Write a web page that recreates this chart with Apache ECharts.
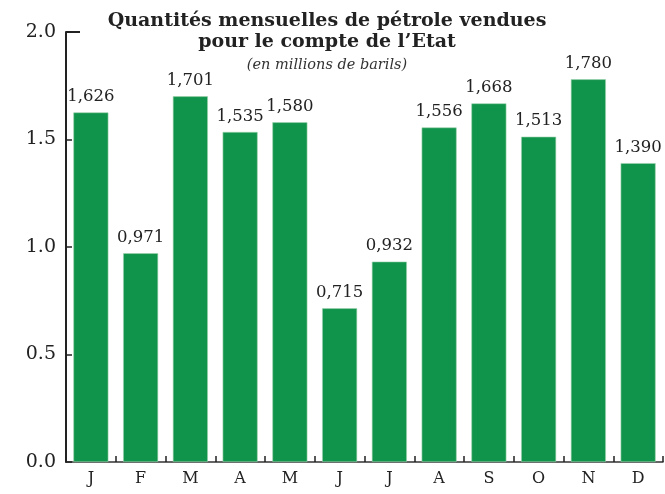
<!DOCTYPE html>
<html><head><meta charset="utf-8">
<script src="https://cdn.jsdelivr.net/npm/echarts@6/dist/echarts.min.js"></script>
<style>html,body{margin:0;padding:0;background:#fff}#c{width:665px;height:494px}</style>
</head><body><div id="c"></div>
<script>
const months = ['J','F','M','A','M','J','J','A','S','O','N','D'];
const values = [1.626,0.971,1.701,1.535,1.580,0.715,0.932,1.556,1.668,1.513,1.780,1.390];
const titleLines = ['Quantités mensuelles de pétrole vendues','pour le compte de l’Etat'];
const subtitle = '(en millions de barils)';
const yMax = 2;
const font = 'DejaVu Serif';
const chart = echarts.init(document.getElementById('c'));
chart.setOption({
  animation:false,
  title:{text:titleLines.join('\n'),subtext:subtitle,left:322,top:6,textAlign:'center',itemGap:5,
    textStyle:{fontFamily:font,fontWeight:'bold',fontSize:19,color:'#222',lineHeight:21},
    subtextStyle:{fontFamily:font,fontStyle:'italic',fontSize:14.5,color:'#333'}},
  grid:{left:66,right:2,top:32,bottom:32},
  xAxis:{type:'category',data:months,
    axisLine:{lineStyle:{color:'#333',width:1.5}},
    axisTick:{show:true,inside:true,length:6,lineStyle:{color:'#222',width:1.5}},
    axisLabel:{fontFamily:font,fontSize:16,color:'#222',margin:9}},
  yAxis:{type:'value',min:0,max:yMax,interval:0.5,
    axisLine:{show:true,lineStyle:{color:'#222',width:2}},
    axisTick:{show:true,inside:true,length:6,lineStyle:{color:'#222',width:1.5}},
    splitLine:{show:false},
    axisLabel:{fontFamily:font,fontSize:19,color:'#222',margin:10,formatter:v=>v.toFixed(1)}},
  series:[{type:'bar',data:values,barWidth:35,
    itemStyle:{color:'#10934a',borderColor:'#9fd4b0',borderWidth:0.6},
    label:{show:true,position:'top',distance:7,fontFamily:font,fontSize:16.5,color:'#222',
      formatter:p=>p.value.toFixed(3).replace('.',',')}}]
});
const p = chart.convertToPixel({gridIndex:0},[0,yMax]);
chart.setOption({graphic:[{type:'line',shape:{x1:66,y1:p[1],x2:80,y2:p[1]},style:{stroke:'#222',lineWidth:2}}]});
</script></body></html>
